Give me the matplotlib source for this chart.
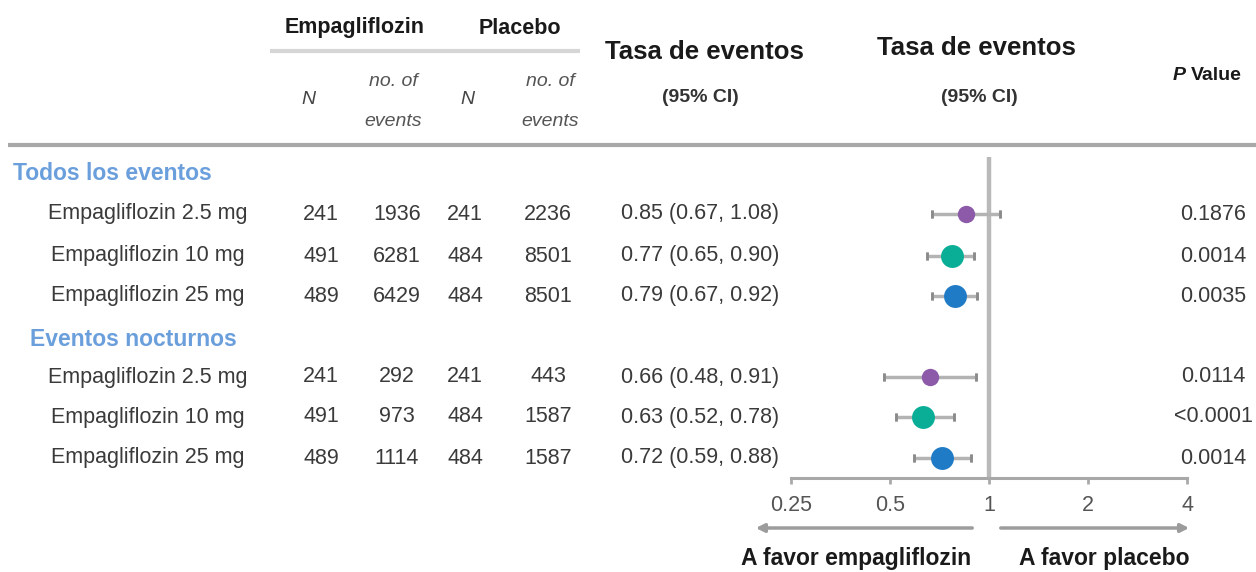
import matplotlib
matplotlib.use("Agg")
import matplotlib.pyplot as plt

plt.rcParams['font.family'] = ['Liberation Sans', 'DejaVu Sans']

# datos
groups = ["Todos los eventos", "Eventos nocturnos"]
labels = ["Empagliflozin 2.5 mg", "Empagliflozin 10 mg", "Empagliflozin 25 mg",
          "Empagliflozin 2.5 mg", "Empagliflozin 10 mg", "Empagliflozin 25 mg"]
n_emp = [241, 491, 489, 241, 491, 489]
ev_emp = [1936, 6281, 6429, 292, 973, 1114]
n_pla = [241, 484, 484, 241, 484, 484]
ev_pla = [2236, 8501, 8501, 443, 1587, 1587]
rate = [0.85, 0.77, 0.79, 0.66, 0.63, 0.72]
lo = [0.67, 0.65, 0.67, 0.48, 0.52, 0.59]
hi = [1.08, 0.90, 0.92, 0.91, 0.78, 0.88]
pvals = ["0.1876", "0.0014", "0.0035", "0.0114", "<0.0001", "0.0014"]
ticks = [0.25, 0.5, 1, 2, 4]
tick_labels = ["0.25", "0.5", "1", "2", "4"]

colors = ["#8c5aa8", "#0aae96", "#1f7bc6"] * 2
msizes = [12.5, 16.5, 16.5] * 2

# layout (pixel coordinates)
W, H = 1256, 572
rows_y = [214, 256, 296, 377, 417, 458]
group_y = [173, 340]
group_x = [13, 30]

fig = plt.figure(figsize=(W / 100, H / 100), dpi=100)
ax0 = fig.add_axes([0, 0, 1, 1])
ax0.set_xlim(0, W)
ax0.set_ylim(H, 0)
ax0.axis("off")

dark = "#1a1a1a"
body = "#3a3a3a"
fs = 15.5

# cabecera
ax0.text(355, 28, "Empagliflozin", ha="center", va="center", fontsize=15.5, fontweight="bold", color=dark)
ax0.text(520, 28, "Placebo", ha="center", va="center", fontsize=15.5, fontweight="bold", color=dark)
ax0.plot([270, 580], [51, 51], color="#d6d6d6", lw=3, solid_capstyle="butt")
for x in (308, 467):
    ax0.text(x, 100, "N", ha="center", va="center", fontsize=14, style="italic", color="#444444")
for x in (393, 550):
    ax0.text(x, 81, "no. of", ha="center", va="center", fontsize=14, style="italic", color="#555555")
    ax0.text(x, 121, "events", ha="center", va="center", fontsize=14, style="italic", color="#555555")
ax0.text(704, 52, "Tasa de eventos", ha="center", va="center", fontsize=18.5, fontweight="bold", color=dark)
ax0.text(700, 97, "(95% CI)", ha="center", va="center", fontsize=14, fontweight="bold", color="#333333")
ax0.text(976, 48, "Tasa de eventos", ha="center", va="center", fontsize=18.5, fontweight="bold", color=dark)
ax0.text(979, 97, "(95% CI)", ha="center", va="center", fontsize=14, fontweight="bold", color="#333333")
ax0.text(1173, 75, "P", ha="left", va="center", fontsize=14, style="italic", fontweight="bold", color=dark)
ax0.text(1191, 75, "Value", ha="left", va="center", fontsize=14, fontweight="bold", color=dark)
ax0.plot([8, W], [145, 145], color="#a8a8a8", lw=3, solid_capstyle="butt")

for g, gx, gy in zip(groups, group_x, group_y):
    ax0.text(gx, gy, g, ha="left", va="center", fontsize=16.5, fontweight="bold", color="#6a9fdc")

for i, y in enumerate(rows_y):
    ax0.text(148, y, labels[i], ha="center", va="center", fontsize=fs, color=body)
    ax0.text(321, y, str(n_emp[i]), ha="center", va="center", fontsize=fs, color=body)
    ax0.text(397, y, str(ev_emp[i]), ha="center", va="center", fontsize=fs, color=body)
    ax0.text(465, y, str(n_pla[i]), ha="center", va="center", fontsize=fs, color=body)
    ax0.text(548, y, str(ev_pla[i]), ha="center", va="center", fontsize=fs, color=body)
    ax0.text(700, y, "%.2f (%.2f, %.2f)" % (rate[i], lo[i], hi[i]), ha="center", va="center",
             fontsize=fs, color=body)
    ax0.text(1213, y, pvals[i], ha="center", va="center", fontsize=fs, color=body)

# forest plot
x0, x1 = 791, 1187
ytop, ybot = 157, 478
ax = fig.add_axes([x0 / W, (H - ybot) / H, (x1 - x0) / W, (ybot - ytop) / H])
ax.patch.set_alpha(0)
ax.set_xscale("log", base=2)
ax.set_xlim(0.25, 4)
ax.set_ylim(ybot, ytop)
ax.axvline(1, color="#b9b9b9", lw=3.2, zorder=1)
for i, y in enumerate(rows_y):
    ax.errorbar(rate[i], y, xerr=[[rate[i] - lo[i]], [hi[i] - rate[i]]], fmt="none",
                ecolor="#b3b3b3", elinewidth=2.5, capsize=3, capthick=2, zorder=2)
    ax.plot([lo[i], hi[i]], [y, y], "|", color="#8a8a8a", ms=6, mew=2, zorder=2)
    ax.plot(rate[i], y, "o", color=colors[i], ms=msizes[i], mec="none", zorder=3)

for s in ("top", "left", "right"):
    ax.spines[s].set_visible(False)
ax.spines["bottom"].set_color("#a8a8a8")
ax.spines["bottom"].set_linewidth(2.2)
ax.set_yticks([])
ax.set_xticks(ticks)
ax.set_xticklabels(tick_labels)
ax.xaxis.set_minor_locator(matplotlib.ticker.NullLocator())
ax.tick_params(axis="x", direction="out", length=4, width=2, color="#aaaaaa",
               labelsize=fs, labelcolor="#555555", pad=8)

# flechas
ax0.annotate("", xy=(753, 528), xytext=(975, 528),
             arrowprops=dict(arrowstyle="-|>", color="#9c9c9c", lw=2.5, mutation_scale=12))
ax0.annotate("", xy=(1192, 528), xytext=(998, 528),
             arrowprops=dict(arrowstyle="-|>", color="#9c9c9c", lw=2.5, mutation_scale=12))
ax0.text(856, 558, "A favor empagliflozin", ha="center", va="center", fontsize=16.5,
         fontweight="bold", color=dark)
ax0.text(1104, 558, "A favor placebo", ha="center", va="center", fontsize=16.5,
         fontweight="bold", color=dark)

fig.savefig("out.png", dpi=100)
